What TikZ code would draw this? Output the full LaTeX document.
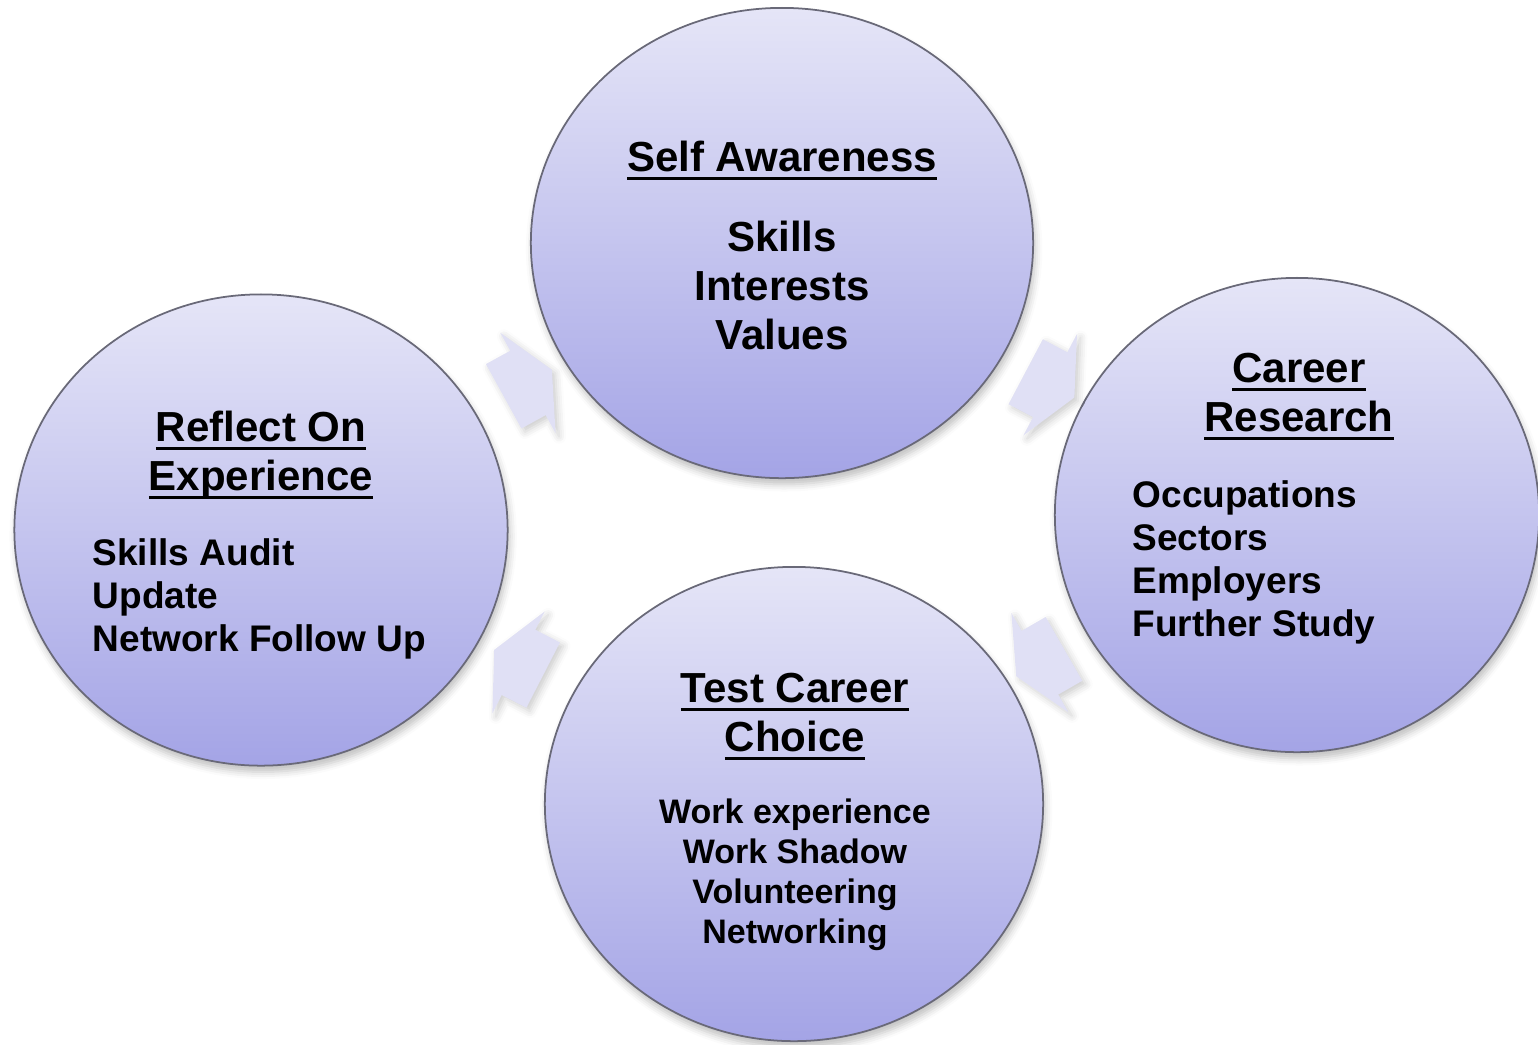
\documentclass[tikz,border=0pt]{standalone}
\usepackage{fontspec}
\setmainfont{Liberation Sans}
\usetikzlibrary{shapes.geometric,shapes.arrows,shadows.blur}

\definecolor{discTop}{RGB}{229,229,247}
\definecolor{discBottom}{RGB}{164,164,230}
\definecolor{discLine}{RGB}{105,105,120}
\definecolor{arrowFill}{RGB}{224,224,245}

% underlined heading, line sits a little under the baseline
\newsavebox{\headbox}
\newcommand{\headline}[1]{\sbox{\headbox}{#1}\rlap{\rule[-2.6pt]{\wd\headbox}{1pt}}\usebox{\headbox}}

\tikzset{
  disc/.style={ellipse, draw=discLine, line width=0.5pt,
    top color=discTop, bottom color=discBottom,
    blur shadow={shadow xshift=0.6pt, shadow yshift=-1.8pt, shadow opacity=25, shadow blur radius=2pt}},
  cyclearrow/.style={single arrow, draw=none, fill=arrowFill,
    inner xsep=0pt, inner ysep=0.36cm,
    minimum height=0.55cm, minimum width=1.13cm,
    single arrow head extend=0.205cm, single arrow tip angle=129,
    sloped, allow upside down,
    blur shadow={shadow xshift=1pt, shadow yshift=-1pt, shadow opacity=20, shadow blur radius=2pt}},
  headtext/.style={font=\fontsize{11.95}{13.94}\selectfont\bfseries, align=center, inner sep=0pt, anchor=north},
  bigitems/.style={font=\fontsize{11.95}{13.94}\selectfont\bfseries, align=center, inner sep=0pt, anchor=north},
  items/.style={font=\fontsize{10.53}{12.23}\selectfont\bfseries, align=left, inner sep=0pt, anchor=north west},
  smallitems/.style={font=\fontsize{9.67}{11.38}\selectfont\bfseries, align=center, inner sep=0pt, anchor=north},
}

\begin{document}
\begin{tikzpicture}[x=0.01cm, y=-0.01cm]
  \useasboundingbox (0,0) rectangle (1538,1044);

  % the four stages
  \node[disc, minimum width=5.02cm, minimum height=4.70cm] (aware) at (782,243) {};
  \node[disc, minimum width=4.84cm, minimum height=4.74cm] (research) at (1297,515) {};
  \node[disc, minimum width=4.98cm, minimum height=4.74cm] (test) at (794,804) {};
  \node[disc, minimum width=4.93cm, minimum height=4.71cm] (reflect) at (261,530) {};

  % arrows of the cycle
  \path (reflect) -- (aware) node[cyclearrow, midway] (arrA) {};
  \path (aware) -- (research) node[cyclearrow, midway] (arrB) {};
  \path (research) -- (test) node[cyclearrow, midway] (arrC) {};
  \path (test) -- (reflect) node[cyclearrow, midway] (arrD) {};

  % texts
  \node[headtext] (awareT) at (782,140) {\headline{Self Awareness}};
  \node[bigitems] (awareB) at (782,220) {Skills\\Interests\\Values};

  \node[headtext] (researchT) at (1299,352) {\headline{Career}\\\headline{Research}};
  \node[items] (researchB) at (1132,480) {Occupations\\Sectors\\Employers\\Further Study};

  \node[headtext] (testT) at (795,672) {\headline{Test Career}\\\headline{Choice}};
  \node[smallitems] (testB) at (795,798) {Work experience\\Work Shadow\\Volunteering\\Networking};

  \node[headtext] (reflectT) at (261,410) {\headline{Reflect On}\\\headline{Experience}};
  \node[items] (reflectB) at (92,538) {Skills Audit\\Update\\Network Follow Up};
\end{tikzpicture}
\end{document}
